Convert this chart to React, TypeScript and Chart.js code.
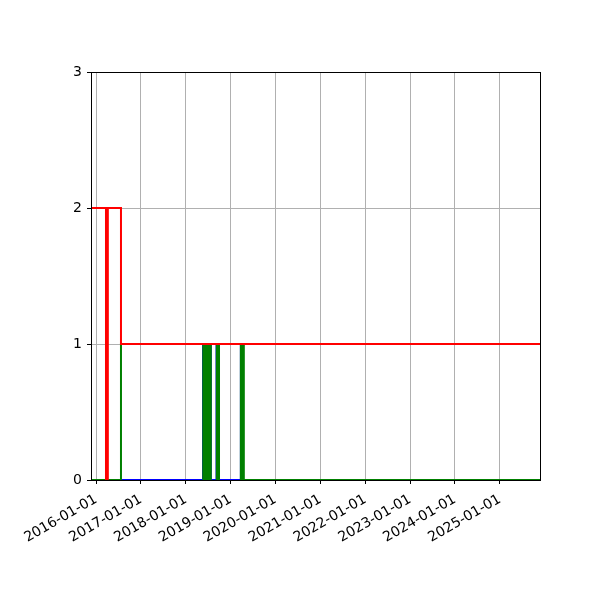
import { useEffect, useRef } from 'react';
import { Chart, registerables } from 'chart.js';

Chart.register(...registerables);

// step series: each value holds from its date until the next date
const redDates = ['2015-11-21', '2016-03-22', '2016-04-06', '2016-07-22', '2025-11-23'];
const redValues = [2, 0, 2, 1, 1];

const greenDates = [
  '2015-11-21', '2016-07-22',
  '2018-05-23', '2018-05-28', '2018-06-02', '2018-06-07', '2018-06-12', '2018-06-17',
  '2018-06-22', '2018-06-27', '2018-07-02', '2018-07-07', '2018-07-12', '2018-07-17',
  '2018-07-21', '2018-07-23',
  '2018-09-10', '2018-09-16', '2018-09-22', '2018-09-28',
  '2019-03-25', '2019-03-31', '2019-04-06', '2019-04-12', '2019-04-18',
  '2025-11-23',
];
const greenValues = [
  0, 1,
  0, 1, 0, 1, 0, 1,
  0, 1, 0, 1, 0, 1,
  0, 1,
  0, 1, 0, 1,
  0, 1, 0, 1, 0,
  0,
];

const blueDates = [
  '2015-11-21',
  '2018-05-21', '2018-07-23',
  '2018-09-08', '2018-09-28',
  '2019-03-25', '2019-04-21',
  '2025-11-23',
];
const blueValues = [0, 1, 0, 1, 0, 1, 1, 1];

const tickYears = [2016, 2017, 2018, 2019, 2020, 2021, 2022, 2023, 2024, 2025];
const yTicks = [0, 1, 2, 3];
const xStart = '2015-11-21';
const xEnd = '2025-11-23';

const toPoints = (dates: string[], values: number[]) =>
  dates.map((d, i) => ({ x: Date.parse(d), y: values[i] }));

const spines = {
  id: 'spines',
  afterDatasetsDraw(chart: any) {
    const { ctx, chartArea } = chart;
    ctx.save();
    ctx.strokeStyle = '#000';
    ctx.lineWidth = 1;
    ctx.strokeRect(
      Math.round(chartArea.left) + 0.5,
      Math.round(chartArea.top) + 0.5,
      Math.round(chartArea.right - chartArea.left),
      Math.round(chartArea.bottom - chartArea.top)
    );
    ctx.restore();
  },
};

export default function App() {
  const canvasRef = useRef<HTMLCanvasElement | null>(null);

  useEffect(() => {
    if (!canvasRef.current) return;
    const font = { family: 'DejaVu Sans', size: 14 };
    const line = (label: string, color: string, dates: string[], values: number[]) => ({
      label,
      data: toPoints(dates, values),
      borderColor: color,
      backgroundColor: color,
      borderWidth: 2,
      pointRadius: 0,
      stepped: true as const,
      fill: false,
    });

    const chart = new Chart(canvasRef.current, {
      type: 'line',
      data: {
        datasets: [
          line('red', '#ff0000', redDates, redValues),
          line('green', '#008000', greenDates, greenValues),
          line('blue', '#0000ff', blueDates, blueValues),
        ],
      },
      plugins: [spines],
      options: {
        animation: false,
        responsive: true,
        maintainAspectRatio: false,
        layout: { padding: { left: 0, top: 72, right: 60, bottom: 0 } },
        plugins: { legend: { display: false }, tooltip: { enabled: false } },
        scales: {
          x: {
            type: 'linear',
            min: Date.parse(xStart),
            max: Date.parse(xEnd),
            afterBuildTicks: (scale: any) => {
              scale.ticks = tickYears.map(y => ({ value: Date.UTC(y, 0, 1) }));
            },
            afterFit: (scale: any) => {
              scale.height = 120;
            },
            ticks: {
              autoSkip: false,
              maxRotation: 30,
              minRotation: 30,
              padding: 7,
              color: '#000',
              font,
              callback: (v: any) => new Date(v).toISOString().slice(0, 10),
            },
            grid: { color: '#b0b0b0', lineWidth: 1, tickColor: '#000', tickLength: 4 },
            border: { display: false },
          },
          y: {
            type: 'linear',
            min: 0,
            max: 3,
            afterBuildTicks: (scale: any) => {
              scale.ticks = yTicks.map(v => ({ value: v }));
            },
            afterFit: (scale: any) => {
              scale.width = 91;
            },
            ticks: { padding: 5, color: '#000', font },
            grid: { color: '#b0b0b0', lineWidth: 1, tickColor: '#000', tickLength: 4 },
            border: { display: false },
          },
        },
      },
    });

    return () => chart.destroy();
  }, []);

  return (
    <div style={{ position: 'absolute', left: 0, top: 0, width: 600, height: 600, background: '#fff' }}>
      <canvas ref={canvasRef} />
    </div>
  );
}
